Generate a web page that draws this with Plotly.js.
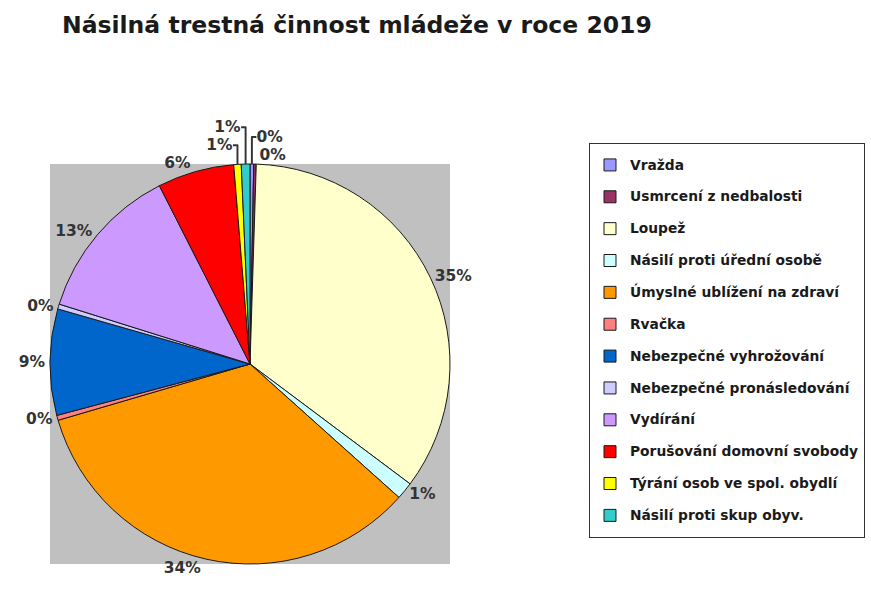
<!DOCTYPE html>
<html>
<head>
<meta charset="utf-8">
<script src="https://cdn.plot.ly/plotly-3.0.1.min.js"></script>
<style>html,body{margin:0;padding:0;background:#fff;}#chart{width:871px;height:595px;}</style>
</head>
<body>
<div id="chart"></div>
<script>
// Data
const categories = [
  "Vražda",
  "Usmrcení z nedbalosti",
  "Loupež",
  "Násilí proti úřední osobě",
  "Úmyslné ublížení na zdraví",
  "Rvačka",
  "Nebezpečné vyhrožování",
  "Nebezpečné pronásledování",
  "Vydírání",
  "Porušování domovní svobody",
  "Týrání osob ve spol. obydlí",
  "Násilí proti skup obyv."
];
const values = [3, 2, 348, 14, 339, 4, 86, 4, 127, 62, 6, 7];
const colors = ["#9999FF", "#993366", "#FFFFCC", "#CCFFFF", "#FF9900", "#FF8080",
                "#0066CC", "#CCCCFF", "#CC99FF", "#FF0000", "#FFFF00", "#33CCCC"];
const chartTitle = "Násilná trestná činnost mládeže v roce 2019";

const W = 871, H = 595;
const FONT = 'DejaVu Sans';
const pieBox = {x0: 50 / W, x1: 450 / W, y0: 1 - 564 / H, y1: 1 - 164 / H};

const legendLabels = categories.map(c =>
  '<span style="font-size:13.8px;baseline-shift:3.8px">' + c + '</span>');

const trace = {
  type: 'pie',
  labels: legendLabels,
  values: values,
  sort: false,
  direction: 'clockwise',
  rotation: 0,
  marker: {colors: colors, line: {color: '#1a1a1a', width: 1}},
  texttemplate: '%{percent:.0%}',
  textposition: 'outside',
  textfont: {family: FONT, size: 15.5, color: '#333333', weight: 'bold'},
  hoverinfo: 'none',
  domain: {x: [pieBox.x0, pieBox.x1], y: [pieBox.y0, pieBox.y1]},
  automargin: false
};

const layout = {
  width: W, height: H,
  margin: {l: 0, r: 0, t: 0, b: 0, autoexpand: false},
  paper_bgcolor: '#ffffff',
  font: {family: FONT, color: '#1a1a1a'},
  title: {
    text: chartTitle,
    font: {family: FONT, size: 23.5, color: '#1a1a1a', weight: 'bold'},
    x: 62 / W, xanchor: 'left', xref: 'container',
    y: 1 - 25 / H, yanchor: 'middle', yref: 'container'
  },
  showlegend: true,
  legend: {
    xref: 'container', yref: 'container',
    x: 589 / W, xanchor: 'left',
    y: 1 - 143 / H, yanchor: 'top',
    maxheight: 1,
    bordercolor: '#333333', borderwidth: 1,
    bgcolor: '#ffffff',
    font: {family: FONT, size: 22.2, color: '#1a1a1a', weight: 'bold'},
    traceorder: 'normal'
  },
  shapes: [{
    type: 'rect', xref: 'paper', yref: 'paper', layer: 'below',
    x0: pieBox.x0, x1: pieBox.x1, y0: pieBox.y0, y1: pieBox.y1,
    fillcolor: '#C0C0C0', line: {width: 0}
  }]
};

Plotly.newPlot('chart', [trace], layout, {displayModeBar: false, staticPlot: true});
</script>
</body>
</html>
